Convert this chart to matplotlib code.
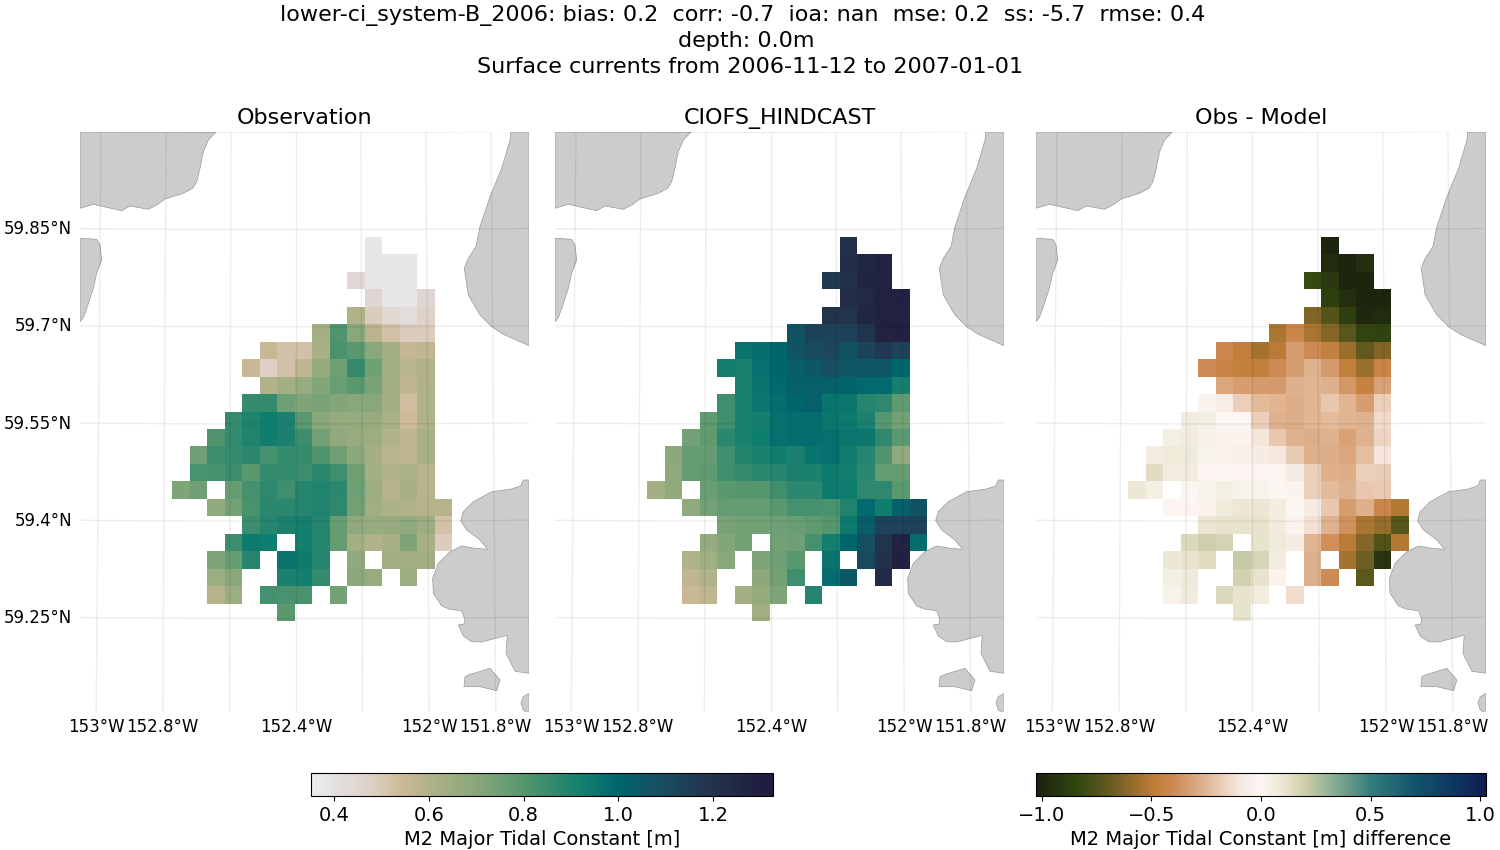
import matplotlib

matplotlib.use("Agg")
import matplotlib.pyplot as plt
import numpy as np
from matplotlib.colors import LinearSegmentedColormap
from matplotlib.patches import Polygon

n = np.nan

# M2 major tidal constant, top row first
obs = [
    [n, n, n, n, n, n, n, n, n, n, n, .38, n, n, n, n],
    [n, n, n, n, n, n, n, n, n, n, n, .38, .38, .38, n, n],
    [n, n, n, n, n, n, n, n, n, n, .44, .38, .38, .38, n, n],
    [n, n, n, n, n, n, n, n, n, n, n, .45, .38, .38, .45, n],
    [n, n, n, n, n, n, n, n, n, n, .60, .49, .44, .42, .47, n],
    [n, n, n, n, n, n, n, n, .63, .81, .70, .58, .52, .49, .49, n],
    [n, n, n, n, n, .55, .52, .52, .62, .82, .79, .70, .64, .56, .57, n],
    [n, n, n, n, .55, .48, .52, .57, .67, .75, .86, .75, .64, .58, .60, n],
    [n, n, n, n, n, .60, .63, .66, .71, .76, .79, .73, .64, .57, .60, n],
    [n, n, n, n, .86, .86, .75, .72, .73, .71, .70, .70, .63, .53, .60, n],
    [n, n, n, .86, .90, .93, .91, .79, .70, .67, .67, .66, .62, .54, .60, n],
    [n, n, .81, .86, .90, .93, .91, .85, .74, .68, .66, .65, .60, .57, .62, n],
    [n, .75, .85, .86, .88, .83, .86, .86, .81, .75, .69, .63, .58, .57, .62, n],
    [n, .82, .83, .85, .79, .86, .86, .85, .88, .84, .75, .63, .60, .61, .58, n],
    [.72, .75, n, .77, .83, .87, .84, .89, .90, .88, .75, .65, .59, .62, .58, n],
    [n, n, .68, .74, .82, .88, .88, .89, .90, .87, .74, .64, .61, .60, .59, .59],
    [n, n, n, n, .85, .89, .91, .92, .89, .77, .68, .66, .66, .68, .65, .52],
    [n, n, n, .85, .94, .93, n, .92, .89, .77, .63, .60, .62, .72, .62, .49],
    [n, n, .72, .77, .89, n, .96, .94, .89, n, .68, n, .64, .64, .64, n],
    [n, n, .65, .70, n, n, .91, .92, .86, n, .69, .66, n, .65, n, n],
    [n, n, .59, .65, n, .83, .82, .82, n, .74, n, n, n, n, n, n],
    [n, n, n, n, n, n, .79, n, n, n, n, n, n, n, n, n],
]
model = [
    [n, n, n, n, n, n, n, n, n, n, n, 1.21, n, n, n, n],
    [n, n, n, n, n, n, n, n, n, n, n, 1.22, 1.26, 1.28, n, n],
    [n, n, n, n, n, n, n, n, n, n, 1.17, 1.21, 1.27, 1.28, n, n],
    [n, n, n, n, n, n, n, n, n, n, n, 1.23, 1.25, 1.29, 1.29, n],
    [n, n, n, n, n, n, n, n, n, n, 1.19, 1.19, 1.26, 1.29, 1.28, n],
    [n, n, n, n, n, n, n, n, 1.07, 1.13, 1.13, 1.14, 1.19, 1.29, 1.29, n],
    [n, n, n, n, n, .96, .98, 1.0, 1.07, 1.10, 1.12, 1.07, 1.13, 1.17, 1.13, n],
    [n, n, n, n, .92, .91, .97, 1.0, 1.03, 1.05, 1.09, 1.06, 1.06, 1.06, 1.0, n],
    [n, n, n, n, n, .91, .96, .99, 1.02, 1.02, 1.02, 1.01, .99, .99, .92, n],
    [n, n, n, n, .84, .91, .95, .98, 1.0, 1.02, .96, .95, .89, .87, .78, n],
    [n, n, n, .78, .84, .91, .92, .97, .98, .98, .95, .94, .91, .80, .74, n],
    [n, n, .74, .78, .88, .91, .93, .97, .98, .98, .97, .95, .95, .87, .79, n],
    [n, .69, .77, .77, .84, .90, .91, .93, .91, .96, .97, .93, .89, .81, .68, n],
    [n, .68, .77, .78, .84, .86, .88, .89, .91, .91, .94, .92, .88, .77, .77, n],
    [.63, .68, n, .76, .79, .80, .80, .84, .88, .88, .94, .93, .87, .87, .79, n],
    [n, n, .68, .74, .77, .77, .77, .79, .83, .83, .82, .90, .99, .93, 1.02, 1.07],
    [n, n, n, n, .73, .74, .74, .75, .76, .78, .80, .94, 1.03, 1.13, 1.13, 1.14],
    [n, n, n, .67, .71, .74, n, .74, .75, .83, .92, 1.0, 1.08, 1.19, 1.28, .98],
    [n, n, .60, .64, .70, n, .72, .75, .79, n, .96, n, 1.11, 1.20, 1.29, n],
    [n, n, .57, .60, n, n, .69, .74, .84, n, .98, 1.05, n, 1.24, n, n],
    [n, n, .55, .57, n, .63, .67, .72, n, .89, n, n, n, n, n, n],
    [n, n, n, n, n, n, .64, n, n, n, n, n, n, n, n, n],
]
diff = [
    [n, n, n, n, n, n, n, n, n, n, n, -1.0, n, n, n, n],
    [n, n, n, n, n, n, n, n, n, n, n, -.97, -1.0, -.95, n, n],
    [n, n, n, n, n, n, n, n, n, n, -.82, -.90, -1.0, -1.0, n, n],
    [n, n, n, n, n, n, n, n, n, n, n, -.87, -.95, -1.0, -1.0, n],
    [n, n, n, n, n, n, n, n, n, n, -.63, -.74, -.88, -.98, -.97, n],
    [n, n, n, n, n, n, n, n, -.53, -.42, -.53, -.62, -.73, -.85, -.85, n],
    [n, n, n, n, n, -.41, -.48, -.55, -.50, -.33, -.40, -.46, -.57, -.70, -.63, n],
    [n, n, n, n, -.40, -.44, -.46, -.48, -.40, -.33, -.26, -.34, -.48, -.57, -.44, n],
    [n, n, n, n, n, -.30, -.33, -.34, -.34, -.27, -.25, -.27, -.36, -.45, -.32, n],
    [n, n, n, n, -.03, -.06, -.17, -.24, -.25, -.28, -.25, -.20, -.25, -.33, -.17, n],
    [n, n, n, .06, .05, .01, -.01, -.17, -.26, -.28, -.25, -.24, -.25, -.26, -.14, n],
    [n, n, .05, .07, .04, -.03, -.03, -.10, -.20, -.26, -.28, -.26, -.32, -.26, -.16, n],
    [n, .06, .08, .08, .03, -.04, -.05, -.07, -.09, -.19, -.27, -.28, -.30, -.22, -.11, n],
    [n, .14, .07, .07, -.02, -.01, -.02, -.02, -.01, -.07, -.17, -.27, -.28, -.17, -.18, n],
    [.09, .05, n, -.01, .03, .05, .03, .03, -.01, -.03, -.17, -.24, -.26, -.20, -.19, n],
    [n, n, -.02, -.02, -.04, .08, .09, .09, .06, .01, -.07, -.20, -.33, -.27, -.42, -.52],
    [n, n, n, n, .11, .12, .12, .12, .07, -.03, -.12, -.26, -.37, -.53, -.58, -.73],
    [n, n, n, .16, .20, .18, n, .12, .08, -.07, -.25, -.38, -.50, -.62, -.75, -.52],
    [n, n, .09, .12, .14, n, .22, .17, .07, n, -.27, n, -.55, -.67, -.93, n],
    [n, n, .05, .08, n, n, .19, .12, -.03, n, -.27, -.40, n, -.72, n, n],
    [n, n, .03, .07, n, .16, .12, .07, n, -.13, n, n, n, n, n, n],
    [n, n, n, n, n, n, .12, n, n, n, n, n, n, n, n, n],
]

# coastlines in map units (same frame as the axes limits below)
coast_nw = [(0, 0), (136, 0), (128.3, 8), (123.3, 19.7), (120, 36.3), (116.7, 49.7),
            (112.7, 56.3), (103.3, 61.3), (85, 67), (76.7, 73), (68.3, 77.3), (50, 74),
            (41.7, 78.7), (13.3, 72.3), (0, 76.3)]
coast_w = [(0, 106.3), (16.7, 107.3), (20, 113), (21.7, 128), (16.7, 141.3), (13.3, 156.3),
           (7.3, 174.7), (3.3, 185.7), (0, 189.7)]
coast_ne = [(430.7, 0), (430, 8), (421.7, 36.3), (410, 64.7), (400, 94.7), (396, 114.7),
            (388.3, 126.3), (384.3, 136.3), (388.3, 163), (400, 183), (411.7, 194.7),
            (423.3, 202.3), (449, 213.7), (449, 0)]
coast_se = [(449, 348), (443.3, 348), (440.7, 354), (430, 357.3), (411.7, 359.7), (393.3, 369.7),
            (383.3, 379.7), (380.7, 388.7), (386.7, 398), (400, 408), (407.7, 417.3),
            (395, 416.3), (381.7, 414), (370, 419.7), (358.3, 431.3), (352.7, 446.3),
            (353.3, 461.3), (361.7, 474), (370, 477.3), (381.7, 478.7), (385, 488),
            (384, 492), (378.3, 493), (383.3, 504), (391.7, 509.7), (401.7, 510),
            (427.3, 503.3), (426, 521.3), (435, 539.3), (449, 541.3)]
island_a = [(385, 544.7), (388.3, 543), (410, 536.3), (420, 548), (416.7, 558.7), (400, 554.7),
            (384, 554.7)]
island_b = [(449, 561.3), (443.3, 564.7), (441, 570.7), (443.3, 578), (449, 582)]
coasts = [coast_nw, coast_w, coast_ne, coast_se, island_a, island_b]

lon_ticks = [-153.0, -152.8, -152.4, -152.0, -151.8]
lon_labels = ["153°W", "152.8°W", "152.4°W", "152°W", "151.8°W"]
lat_ticks = [59.85, 59.7, 59.55, 59.4, 59.25]
lat_labels = ["59.85°N", "59.7°N", "59.55°N", "59.4°N", "59.25°N"]
grid_lons = [-153.0, -152.8, -152.6, -152.4, -152.2, -152.0, -151.8]
grid_lats = [59.1, 59.25, 59.4, 59.55, 59.7, 59.85, 60.0]

rain_stops = [(0.0, (238, 237, 242)), (0.05, (228, 224, 226)), (0.13, (222, 208, 198)),
              (0.195, (205, 185, 150)), (0.255, (176, 178, 135)), (0.36, (135, 167, 122)),
              (0.46, (85, 150, 110)), (0.595, (15, 125, 110)), (0.665, (0, 102, 110)),
              (0.767, (25, 75, 95)), (0.87, (35, 50, 75)), (1.0, (33, 26, 62))]
diff_stops = [(0.0, (26, 32, 14)), (0.09, (50, 70, 15)), (0.16, (100, 90, 30)),
              (0.26, (190, 125, 55)), (0.30, (205, 135, 80)), (0.36, (220, 170, 130)),
              (0.45, (245, 230, 220)), (0.50, (252, 248, 245)), (0.55, (235, 230, 210)),
              (0.60, (205, 205, 170)), (0.65, (150, 180, 150)), (0.745, (50, 125, 125)),
              (0.84, (20, 85, 110)), (1.0, (13, 30, 85))]

title_lines = [
    "lower-ci_system-B_2006: bias: 0.2  corr: -0.7  ioa: nan  mse: 0.2  ss: -5.7  rmse: 0.4",
    "depth: 0.0m",
    "Surface currents from 2006-11-12 to 2007-01-01",
]


def make_cmap(name, stops):
    return LinearSegmentedColormap.from_list(
        name, [(pos, tuple(c / 255 for c in rgb)) for pos, rgb in stops], N=256
    )


def map_x(lon, y):
    # meridians fan out a little towards the bottom of the map
    return 216 + (lon + 152.4) * (325 + 8 * y / 580)


def map_y(lat, x):
    # parallels sag slightly in the middle
    return 291 - (lat - 59.55) * 648 + (1 - ((x - 216) / 225) ** 2)


def px_axes(fig, left, top, right, bottom):
    return fig.add_axes([left / 1500, 1 - bottom / 850, (right - left) / 1500, (bottom - top) / 850])


def draw_panel(ax, grid, cmap, vmin, vmax, title, show_lat=False):
    x_edges = np.linspace(92, 372, 17)
    y_edges = np.linspace(105, 489, 23)
    mesh = ax.pcolormesh(x_edges, y_edges, np.ma.masked_invalid(grid), cmap=cmap, vmin=vmin, vmax=vmax,
                         linewidth=0, antialiased=False, zorder=1)
    for coast in coasts:
        ax.add_patch(Polygon(coast, closed=True, facecolor="#cccccc", edgecolor="#999999",
                             linewidth=0.5, zorder=2))

    ys = np.linspace(0, 580, 30)
    for lon in grid_lons:
        ax.plot(map_x(lon, ys), ys, color="k", alpha=0.07, lw=1, zorder=3)
    xs = np.linspace(0, 449, 30)
    for lat in grid_lats:
        ax.plot(xs, map_y(lat, xs), color="k", alpha=0.07, lw=1, zorder=3)

    ax.set_xlim(0, 449)
    ax.set_ylim(580, 0)
    ax.set_frame_on(False)
    ax.set_xticks([map_x(lon, 580) for lon in lon_ticks], lon_labels)
    if show_lat:
        ax.set_yticks([map_y(lat, 0) - 1.5 for lat in lat_ticks], lat_labels)
    else:
        ax.set_yticks([])
    ax.tick_params(axis="x", length=0, labelsize=12, pad=4.5)
    ax.tick_params(axis="y", length=0, labelsize=12, pad=5.5)
    ax.set_title(title, fontsize=16)
    return mesh


fig = plt.figure(figsize=(15, 8.5), dpi=100)
rain = make_cmap("rain_like", rain_stops)
delta = make_cmap("diff_like", diff_stops)

ax_obs = px_axes(fig, 80, 132, 529, 712)
ax_model = px_axes(fig, 555, 132, 1004, 712)
ax_diff = px_axes(fig, 1036, 132, 1486, 712)

mesh_obs = draw_panel(ax_obs, obs, rain, 0.351, 1.327, "Observation", show_lat=True)
draw_panel(ax_model, model, rain, 0.351, 1.327, "CIOFS_HINDCAST")
mesh_diff = draw_panel(ax_diff, diff, delta, -1.027, 1.027, "Obs - Model")

cax1 = px_axes(fig, 311, 773, 773, 796)
cb1 = fig.colorbar(mesh_obs, cax=cax1, orientation="horizontal", ticks=[0.4, 0.6, 0.8, 1.0, 1.2])
cb1.set_label("M2 Major Tidal Constant [m]", fontsize=14)
cax2 = px_axes(fig, 1036, 773, 1486, 796)
cb2 = fig.colorbar(mesh_diff, cax=cax2, orientation="horizontal", ticks=[-1.0, -0.5, 0.0, 0.5, 1.0])
cb2.set_label("M2 Major Tidal Constant [m] difference", fontsize=14)
for cb in (cb1, cb2):
    cb.ax.tick_params(labelsize=14)

for line, cx, cy in zip(title_lines, [743, 746, 750], [15, 41, 67]):
    fig.text(cx / 1500, 1 - cy / 850, line, fontsize=16, ha="center", va="center")

fig.savefig("out.png", dpi=100)
